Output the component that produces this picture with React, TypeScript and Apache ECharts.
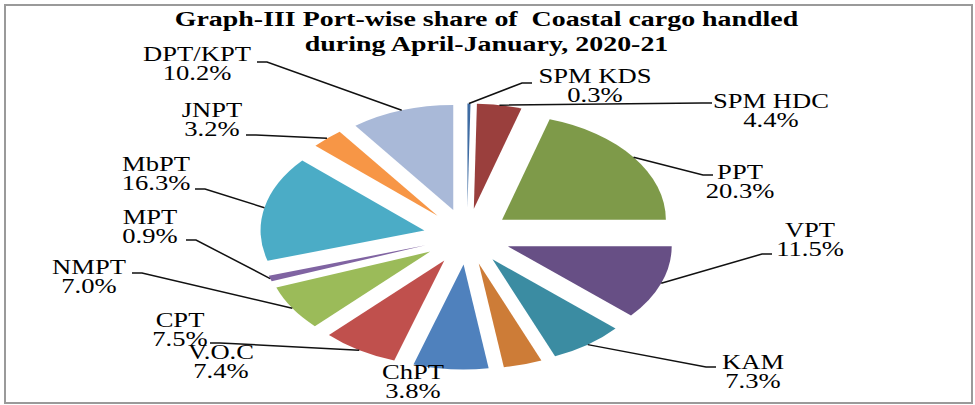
import React, { useEffect, useRef } from 'react';
import * as echarts from 'echarts';

// ---- data ----
const ports = ['SPM KDS', 'SPM HDC', 'PPT', 'VPT', 'KAM', 'ChPT', 'V.O.C', 'CPT', 'NMPT', 'MPT', 'MbPT', 'JNPT', 'DPT/KPT'];
const shares = [0.3, 4.4, 20.3, 11.5, 7.3, 3.8, 7.4, 7.5, 7.0, 0.9, 16.3, 3.2, 10.2];
const titleLines = ['Graph-III Port-wise share of  Coastal cargo handled', 'during April-January, 2020-21'];

// ---- styles / layout ----
const sliceColors = [
  '#3F6CA3', '#9A3F3D', '#7E9A49', '#674F85', '#3B8CA2', '#CD7C37',
  '#4F81BD', '#C0504D', '#9BBB59', '#8064A2', '#4BACC6', '#F79646', '#A9B9D8',
];
// label block centres and leader-line end points (pixels)
const labelCenters: [number, number][] = [
  [595, 86], [771, 111], [740, 182], [810, 239.5], [753, 372], [413, 382], [221, 362],
  [180, 330], [89, 277], [150, 227], [156, 174], [212, 120], [197, 64],
];
const leaderEnds: ([number, number] | null)[] = [
  [532, 83], [712, 103], [713, 175], [772, 254], [716, 367], null, null,
  [210, 343], [132, 273], [186, 240], [195, 189], [246, 135], [257, 62],
];
const PIE = { cx: 467, cy: 236.5, r: 105, stretch: 1.56, explode: 28 };
const TEXT_STRETCH = 1.33;
const SERIF = '"Liberation Serif", "Times New Roman", serif';

export default function App() {
  const ref = useRef<HTMLDivElement>(null);
  useEffect(() => {
    const chart = echarts.init(ref.current!, null, { renderer: 'svg' });
    const total = shares.reduce((a, b) => a + b, 0);
    const starts: number[] = [];
    let acc = 0;
    shares.forEach((v) => { starts.push(acc); acc += v; });

    const renderItem = (params: any, api: any) => {
      const i = params.dataIndex;
      const v = api.value(0) as number;
      const a0 = (starts[i] / total) * 2 * Math.PI;
      const a1 = a0 + (v / total) * 2 * Math.PI;
      const mid = (a0 + a1) / 2;
      const ox = Math.sin(mid) * PIE.explode;
      const oy = -Math.cos(mid) * PIE.explode;
      const children: any[] = [
        {
          type: 'sector',
          x: PIE.cx,
          y: PIE.cy,
          scaleX: PIE.stretch,
          shape: { cx: ox, cy: oy, r0: 0, r: PIE.r, startAngle: a0 - Math.PI / 2, endAngle: a1 - Math.PI / 2, clockwise: true },
          style: { fill: sliceColors[i], stroke: 'none' },
        },
      ];
      const ax = PIE.cx + (ox + Math.sin(mid) * PIE.r) * PIE.stretch;
      const ay = PIE.cy + oy - Math.cos(mid) * PIE.r;
      const end = leaderEnds[i];
      if (end) {
        const dir = end[0] > ax ? -1 : 1;
        children.push({
          type: 'polyline',
          shape: { points: [[ax, ay], [end[0] + dir * 10, end[1]], [end[0], end[1]]] },
          style: { stroke: '#111', lineWidth: 1.5, fill: 'none' },
        });
      }
      return { type: 'group', children };
    };

    const textEl = (text: string, x: number, y: number, size: number, bold: boolean, sx: number, lh?: number) => ({
      type: 'text',
      x,
      y,
      scaleX: sx,
      silent: true,
      z: 10,
      style: {
        text,
        font: `${bold ? 'bold ' : ''}${size}px ${SERIF}`,
        fontSize: size,
        fontWeight: bold ? 'bold' : 'normal',
        fontFamily: SERIF,
        fill: '#000',
        align: 'center',
        verticalAlign: 'middle',
        textAlign: 'center',
        textVerticalAlign: 'middle',
        ...(lh ? { lineHeight: lh } : {}),
      },
    });

    chart.setOption({
      animation: false,
      backgroundColor: '#fff',
      textStyle: { fontFamily: SERIF },
      graphic: [
        {
          type: 'rect',
          shape: { x: 5, y: 5, width: 967, height: 398 },
          style: { fill: 'none', stroke: '#9a9a9a', lineWidth: 2 },
          silent: true,
        },
        ...titleLines.map((t, k) => textEl(t, 486.5, 19 + k * 25, 21, true, 1.33)),
        ...ports.map((p, i) =>
          textEl(`${p}\n${shares[i].toFixed(1)}%`, labelCenters[i][0], labelCenters[i][1], 20, false, TEXT_STRETCH, 19)
        ),
      ],
      series: [
        {
          type: 'custom',
          coordinateSystem: 'none',
          silent: true,
          renderItem,
          data: shares.map((v, i) => ({ name: ports[i], value: [v] })),
        },
      ],
    });
    return () => chart.dispose();
  }, []);

  return <div ref={ref} style={{ position: 'fixed', left: 0, top: 0, width: 975, height: 405 }} />;
}
